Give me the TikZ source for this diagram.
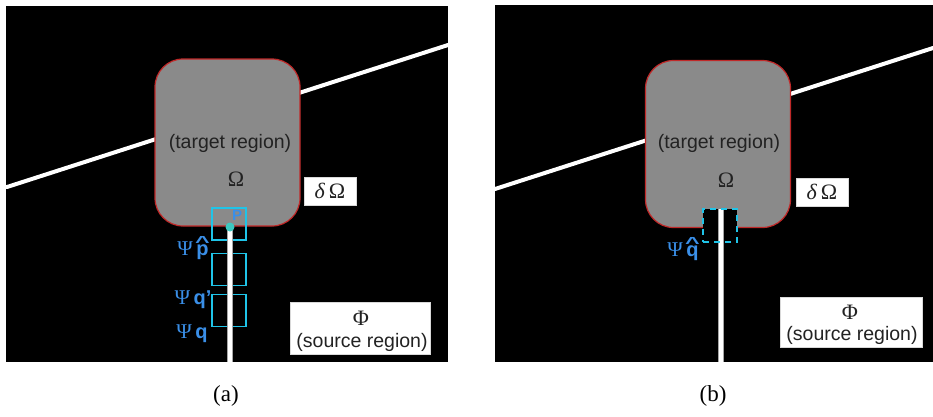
\documentclass[tikz,border=0pt]{standalone}
\usepackage{fontspec}
\usepackage{graphicx}
\setmainfont{Liberation Serif}
\setsansfont{Liberation Sans}
\definecolor{regfill}{HTML}{8A8A8A}
\definecolor{regedge}{HTML}{C02828}
\definecolor{cyanc}{HTML}{1FC4E8}
\definecolor{lblblue}{HTML}{3A8FE8}
\definecolor{dotc}{HTML}{3CC8C0}
\definecolor{txtgray}{HTML}{222222}
\tikzset{
  panelbg/.style={fill=black},
  road/.style={draw=white, line width=4pt, line cap=round},
  stemedge/.style={draw=gray!70, line width=6pt},
  stemcore/.style={draw=white, line width=3.6pt},
  target/.style={draw=regedge, line width=1.2pt, fill=regfill, rounded corners=28pt,
     minimum width=145pt, minimum height=167pt, inner sep=0pt},
  regtext/.style={font=\sffamily\fontsize{19.5}{22}\selectfont, text=txtgray, inner sep=0pt},
  greek/.style={font=\fontsize{22}{24}\selectfont, text=txtgray, inner sep=0pt},
  whitebox/.style={fill=white, draw=gray!30, line width=0.5pt, inner sep=0pt},
  cyanbox/.style={draw=cyanc, line width=1.6pt, minimum width=34pt, minimum height=32pt, inner sep=0pt},
  cyandash/.style={draw=cyanc, line width=1.6pt, dash pattern=on 6pt off 5pt,
     minimum width=34pt, minimum height=33pt, inner sep=0pt},
  lbl/.style={text=lblblue, inner sep=0pt, font=\fontsize{21}{23}\selectfont},
  dotnode/.style={circle, fill=dotc, minimum size=9pt, inner sep=0pt},
  caption/.style={font=\fontsize{23}{25}\selectfont, inner sep=0pt}
}
\newcommand{\bsf}[1]{{\sffamily\bfseries\fontsize{20}{22}\selectfont #1}}
\newcommand{\hatb}[1]{{\sffamily\bfseries\fontsize{20}{22}\selectfont
  \setbox0\hbox{#1}\hbox{\rlap{\hbox to\wd0{\hss\raisebox{0.36em}{\scalebox{1.25}[0.8]{\char"5E}}\hss}}\box0}}}
\begin{document}
\begin{tikzpicture}[x=1pt,y=-1pt]
\useasboundingbox (0,0) rectangle (933,416);
\fill[white] (0,0) rectangle (933,416);

% ---------------- panel (a)
\fill[panelbg] (6,6) rectangle (448,362);
\coordinate (aL) at (7,187);
\coordinate (aR) at (448,45);
\draw[road] (aL) -- (aR);
\node[target] (TA) at (227.5,142.5) {};
\node[regtext] (TAtxt) at (230,143) {(target region)};
\node[greek] (TAom) at (236,179) {Ω};
\node[whitebox, minimum width=52pt, minimum height=28pt] (DA) at (330,191) {};
\node[greek] (DAtxt) at (DA.center) {\textit{δ}\,Ω};
\node[whitebox, minimum width=140pt, minimum height=52pt] (SA) at (360,328) {};
\node[greek] (SAphi) at (361,318) {Φ};
\node[regtext] (SAtxt) at (362,342) {(source region)};

\node[cyanbox] (B1) at (229,224) {};
\node[cyanbox] (B2) at (229,269.5) {};
\node[cyanbox] (B3) at (229,310.5) {};
\coordinate (ptop) at (230,227);
\coordinate (abot) at (230,362);
\draw[stemedge] (ptop) -- (abot);
\draw[stemcore] (ptop) -- (abot);
\node[dotnode] (pdot) at (ptop) {};
\node[text=lblblue, font=\sffamily\bfseries\fontsize{15}{16}\selectfont, inner sep=0pt] (plbl) at (237,215) {P};

\node[lbl, anchor=base] (L1) at (193,255) {Ψ\,\hatb{p}};
\node[lbl, anchor=base] (L2) at (193,304) {Ψ\,\bsf{q’}};
\node[lbl, anchor=base] (L3) at (192,338) {Ψ\,\bsf{q}};

\node[caption] (capA) at (226,396) {(a)};

% ---------------- panel (b)
\fill[panelbg] (495,5) rectangle (933,362);
\coordinate (bL) at (495,189);
\coordinate (bR) at (933,48);
\draw[road] (bL) -- (bR);
\node[target] (TB) at (718,144) {};
\node[regtext] (TBtxt) at (719,143) {(target region)};
\node[greek] (TBom) at (726,180) {Ω};
\node[whitebox, minimum width=52pt, minimum height=28pt] (DB) at (822,192) {};
\node[greek] (DBtxt) at (DB.center) {\textit{δ}\,Ω};
\node[whitebox, minimum width=142pt, minimum height=50pt] (SB) at (851,322) {};
\node[greek] (SBphi) at (850,312) {Φ};
\node[regtext] (SBtxt) at (852,335) {(source region)};

\node[fill=black, minimum width=34pt, minimum height=33pt, inner sep=0pt] (HB) at (720,225.5) {};
\coordinate (qtop) at (721,209);
\coordinate (bbot) at (721,362);
\draw[stemedge] (qtop) -- (bbot);
\draw[stemcore] (qtop) -- (bbot);
\node[cyandash] (QB) at (720,225.5) {};
\node[lbl, anchor=base] (LB) at (683,256) {Ψ\,\hatb{q}};

\node[caption] (capB) at (713,396) {(b)};
\end{tikzpicture}
\end{document}
